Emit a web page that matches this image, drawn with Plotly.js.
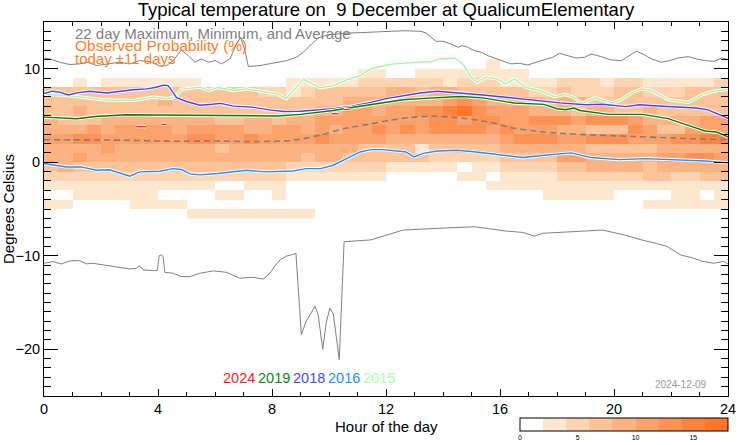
<!DOCTYPE html>
<html>
<head>
<meta charset="utf-8">
<script src="https://cdn.plot.ly/plotly-3.0.1.min.js"></script>
<style>
  html, body { margin: 0; padding: 0; background: #ffffff; }
  #chart { width: 742px; height: 445px; }
</style>
</head>
<body>
<div id="chart"></div>
<script>
// ---------- DATA ----------
// Heatmap bins (half-hour columns, 1-degree rows)
const hourBins = [0.25,0.75,1.25,1.75,2.25,2.75,3.25,3.75,4.25,4.75,5.25,5.75,6.25,6.75,7.25,7.75,8.25,8.75,9.25,9.75,10.25,10.75,11.25,11.75,12.25,12.75,13.25,13.75,14.25,14.75,15.25,15.75,16.25,16.75,17.25,17.75,18.25,18.75,19.25,19.75,20.25,20.75,21.25,21.75,22.25,22.75,23.25,23.75];
const tempBins = [-5.5,-4.5,-3.5,-2.5,-1.5,-0.5,0.5,1.5,2.5,3.5,4.5,5.5,6.5,7.5,8.5,9.5,10.5];

// Observed probability (%) per temperature row, bottom (-6..-5) to top (10..11)
const probM6 = [0,0,0,0,0,0,0,0,0,0, 3,3,3,3,3,3,3,3,3,0, 0,0,0,0,0,0,0,0,0,0, 0,0,0,0,0,0,0,0,0,0, 0,0,0,0,0,0,0,0];
const probM5 = [3,3,0,0,0,0,3,3,3,3, 0,0,0,0,0,0,0,0,0,0, 0,0,0,0,0,0,0,0,0,0, 0,0,0,0,0,0,0,0,0,0, 0,0,3,3,3,3,3,3];
const probM4 = [0,0,3,3,3,3,3,3,0,0, 0,0,3,3,0,0,3,0,0,0, 0,0,0,0,0,0,0,0,0,0, 0,0,0,0,0,3,3,3,3,3, 0,0,0,0,3,3,0,3];
const probM3 = [3,3,3,3,3,3,3,3,3,3, 3,3,0,0,3,3,3,0,0,0, 0,0,0,0,0,0,0,0,0,0, 0,3,3,3,3,3,3,3,3,3, 3,3,3,3,3,3,3,3];
const probM2 = [5,5,5,5,5,5,5,5,5,5, 5,5,5,5,5,5,5,3,3,3, 3,3,3,3,0,0,0,0,0,3, 3,0,3,3,3,3,5,5,5,5, 5,5,7,7,5,5,7,7];
const probM1 = [7,9,7,7,7,7,7,7,7,7, 7,7,7,7,7,7,7,5,5,5, 5,5,5,5,3,3,3,3,3,0, 3,3,5,5,5,5,7,7,9,9, 9,9,7,9,9,9,9,9];
const probP0 = [9,9,11,9,9,9,9,9,9,9, 9,9,9,9,9,9,9,9,7,9, 9,7,7,7,7,7,7,5,5,5, 5,5,7,7,7,7,11,11,9,9, 9,9,9,11,11,13,13,11];
const probP1 = [9,9,9,9,11,9,9,9,9,9, 9,9,7,9,9,9,9,9,9,9, 9,9,7,7,7,7,3,7,7,7, 7,7,9,9,9,9,9,9,7,7, 7,7,7,9,9,9,9,9];
const probP2 = [11,11,13,13,11,11,11,11,11,11, 13,13,11,11,13,11,11,11,11,13, 11,11,11,11,9,9,9,9,9,9, 9,9,11,13,13,13,11,11,13,13, 13,11,11,11,13,13,15,15];
const probP3 = [9,9,9,11,9,11,11,11,11,9, 11,11,11,11,9,9,11,11,9,11, 9,11,11,13,11,13,11,13,13,13, 13,11,13,11,11,11,9,9,7,7, 7,13,11,7,7,11,11,11];
const probP4 = [9,7,7,7,9,9,9,9,9,9, 9,9,7,7,9,9,7,9,9,11, 11,11,11,11,11,11,11,13,13,11, 13,13,11,11,13,13,13,11,13,13, 13,11,9,9,9,9,11,11];
const probP5 = [7,7,9,7,7,7,7,7,7,7, 7,7,7,7,7,7,7,7,7,9, 9,11,11,9,11,11,13,13,15,17, 13,11,11,11,9,9,9,7,9,9, 7,7,9,7,7,7,7,7];
const probP6 = [7,7,7,7,7,7,7,7,9,7, 7,7,7,7,7,7,7,7,7,7, 7,9,9,9,9,9,9,9,11,13, 11,9,9,9,9,7,9,9,7,7, 7,7,7,7,7,7,7,7];
const probP7 = [7,7,7,7,7,7,7,7,7,7, 7,7,7,7,7,5,5,3,5,7, 7,7,7,7,9,9,7,9,9,7, 7,7,7,7,5,5,7,5,5,5, 7,7,5,5,5,7,7,7];
const probP8 = [0,0,3,0,3,3,3,3,3,3, 3,0,0,0,0,0,0,3,3,3, 3,3,5,5,5,5,5,5,3,5, 5,5,3,3,3,3,5,5,5,3, 5,5,3,3,3,3,3,5];
const probP9 = [0,0,0,0,0,0,0,0,0,0, 0,0,0,0,0,0,0,0,0,0, 0,0,3,3,0,0,3,3,3,3, 3,3,3,3,0,0,0,0,0,0, 0,0,0,0,0,0,0,0];
const probP10 = [0,0,0,0,0,0,0,0,0,0, 0,0,0,0,0,0,0,0,0,0, 0,0,0,0,0,0,0,0,0,0, 0,3,0,0,0,0,0,0,0,0, 0,0,0,0,0,0,0,0];

// 22-day maximum
const maxHours = [0,0.2,0.55,0.9,1.25,1.55,1.84,2.31,2.66,3.01,3.36,3.71,4.06,4.3,4.53,4.82,5.06,5.29,5.53,5.76,6.0,6.23,6.52,6.76,6.9,7.05,7.17,7.58,8.04,8.51,8.86,9.1,9.39,9.62,9.92,10.27,10.68,11.09,11.47,12.06,12.64,13.23,13.41,13.58,13.76,14.0,14.28,14.52,14.69,14.87,15.1,15.34,15.57,15.8,16.1,16.39,16.68,16.98,17.27,17.56,17.85,18.09,18.38,18.67,18.97,19.2,19.55,19.9,20.26,20.55,20.78,21.02,21.31,21.66,21.95,22.25,22.6,22.89,23.18,23.53,23.77,24.0];
const maxTemps = [11.16,11.05,10.7,10.45,10.52,10.7,10.34,10.52,10.7,10.52,10.87,10.77,10.3,10.34,10.87,12.0,11.4,10.7,11.05,10.7,10.87,10.52,11.05,12.65,13.36,11.94,10.24,10.34,10.6,10.87,11.23,11.76,12.65,13.29,13.6,13.72,13.82,13.86,13.9,14.0,14.07,14.0,13.82,13.36,12.94,12.94,12.65,12.3,12.47,12.3,11.94,11.76,11.4,11.15,10.8,10.52,10.58,10.4,10.7,10.94,11.23,11.65,11.4,11.15,11.23,11.58,11.3,10.94,10.87,11.4,11.87,11.58,11.05,10.7,10.87,11.15,11.3,11.05,10.87,10.8,11.15,11.0];

// 22-day minimum
const minHours = [0,0.32,0.61,0.9,1.25,1.49,1.7,2.07,2.54,3.0,3.24,3.33,3.4,3.48,3.83,3.98,4.04,4.12,4.18,4.24,4.53,4.82,5.12,5.47,5.94,6.4,6.87,7.34,7.69,7.93,8.1,8.28,8.5,8.84,9.03,9.2,9.51,9.62,9.78,9.9,10.03,10.15,10.36,10.47,10.53,11.47,12.6,13.8,15.1,15.6,16.2,16.8,17.2,17.5,18.5,19.6,20.4,20.96,21.5,21.86,22.33,22.8,23.09,23.5,23.85,24.0];
const minTemps = [-10.8,-10.63,-10.88,-10.56,-10.52,-10.88,-10.8,-10.98,-11.16,-11.41,-11.35,-11.1,-11.2,-11.52,-11.59,-11.55,-10.0,-9.9,-10.1,-11.77,-11.87,-12.23,-12.23,-11.87,-11.62,-11.77,-12.4,-12.3,-12.5,-11.87,-11.1,-10.45,-10.05,-9.74,-18.44,-17.0,-15.4,-16.3,-20.0,-17.2,-15.6,-16.2,-21.1,-12.0,-8.5,-8.3,-7.25,-7.07,-6.9,-7.1,-7.36,-7.5,-7.9,-7.6,-7.4,-7.25,-7.8,-8.3,-8.7,-9.0,-9.9,-10.27,-10.6,-10.8,-10.6,-10.88];

// 22-day average
const avgHours = [0,1,2,3,4.07,5,5.83,7,8.17,8.6,9.1,9.7,10.5,11.47,12.15,12.9,13.6,14.3,15.0,15.7,16.4,17.3,18.1,19.0,20.3,22.0,23.2,24];
const avgTemps = [2.41,2.4,2.38,2.35,2.27,2.24,2.27,2.22,2.24,2.3,2.52,2.9,3.58,4.1,4.5,4.8,4.93,4.83,4.6,4.25,3.7,3.3,3.1,2.95,2.8,2.6,2.48,2.42];

// individual years
const hours2024 = [3.24,3.57,null,4.12,4.3,null,10.1,10.33,null,10.52,10.71];
const temps2024 = [3.8,3.8,null,4.05,4.05,null,5.19,5.19,null,5.65,5.65];

const hours2019 = [0,0.6,1.14,1.8,2.9,4.0,5.47,6.5,7.5,8.2,9.0,9.6,10.15,10.8,11.47,12.0,12.6,13.2,13.8,14.6,15.4,15.9,16.5,17.55,18.0,18.3,18.6,18.8,19.8,21.0,21.9,22.6,23.2,23.6,24];
const temps2019 = [4.83,4.75,4.66,4.9,5.08,5.05,5.01,4.95,4.9,4.95,5.12,5.3,5.54,5.85,6.18,6.45,6.68,6.8,6.89,7.03,6.89,6.61,6.33,6.19,5.72,5.62,5.8,5.54,5.12,5.12,4.66,3.94,3.34,3.23,2.72];

const hours2018 = [0,0.3,0.55,0.85,1.2,1.6,2.2,2.7,3.13,3.6,3.9,4.2,4.35,4.5,4.65,5.0,5.47,5.9,6.2,6.64,7.3,7.9,8.4,9.0,9.6,10.15,10.8,11.47,12.0,12.6,13.2,13.8,14.5,15.4,16.2,17.2,18.1,19.0,19.6,20.4,20.9,21.4,22.0,22.9,23.3,23.7,24];
const temps2018 = [7.35,7.6,7.5,7.2,7.45,7.6,7.4,7.6,7.75,7.85,8.0,8.25,8.2,7.6,6.9,6.5,6.1,6.2,6.3,6.0,5.9,5.6,5.43,5.45,5.55,5.72,6.0,6.4,6.8,7.1,7.4,7.6,7.45,7.2,6.95,6.6,6.35,6.15,6.2,5.95,6.15,6.05,5.96,5.8,5.6,5.1,4.7];

const hours2016 = [0,0.4,0.78,1.3,1.84,2.3,2.6,3.01,3.36,4.07,4.53,4.82,5.12,5.47,6.1,6.64,7.1,7.8,8.74,9.2,9.7,10.15,10.6,11.09,11.47,11.9,12.4,12.7,12.98,13.3,13.8,14.5,15.0,15.6,16.2,16.8,17.55,18.5,19.2,20.2,21.1,22.0,23.2,24];
const temps2016 = [-0.14,-0.3,-0.5,-0.5,-0.85,-0.8,-1.1,-1.49,-1.03,-0.96,-0.68,-0.78,-1.24,-1.35,-1.2,-1.0,-0.85,-1.03,-0.93,-0.68,-0.68,-0.32,0.39,1.1,1.35,1.35,1.2,1.1,0.57,0.95,1.2,1.28,1.15,0.92,0.7,0.5,0.75,1.0,0.5,0.28,0.39,0.28,0.14,-0.07];

const hours2015 = [0,0.78,1.3,2.0,2.54,3.2,3.83,4.3,4.6,4.82,5.1,5.47,5.8,6.1,6.64,7.1,7.8,8.2,8.5,8.75,9.1,9.4,9.68,10.15,10.62,11.09,11.47,11.8,12.2,12.9,13.6,13.9,14.4,14.69,14.99,15.2,15.5,15.9,16.2,16.5,16.9,17.4,17.93,18.28,18.6,18.87,19.34,19.92,20.2,20.6,20.97,21.3,21.9,22.6,23.08,23.5,24];
const temps2015 = [7.25,7.14,6.96,6.7,6.61,6.65,6.96,6.8,6.96,7.8,7.9,8.03,7.67,8.0,7.67,7.85,7.5,7.3,6.8,7.67,8.9,8.4,7.97,8.2,8.8,9.27,10.0,10.24,10.5,10.66,10.77,11.05,11.15,10.52,9.1,8.56,9.1,8.9,8.38,8.9,8.02,7.67,7.0,7.25,6.9,6.3,6.9,6.35,6.6,7.4,7.85,7.7,6.7,6.4,7.2,7.6,7.8];

const yearLabels = ['2024','2019','2018','2016','2015'];
const yearColors = ['#ff1a1a','#088a08','#4747ff','#1e8fff','#aaffaa'];
const yTickVals = [-20,-10,0,10];
const cbTickVals = [0,5,10,15];
const xTitle = 'Hour of the day';

// ---------- BUILD ----------
const probZ = [probM6,probM5,probM4,probM3,probM2,probM1,probP0,probP1,probP2,probP3,probP4,probP5,probP6,probP7,probP8,probP9,probP10];

const levelColors = ['#ffffff','#fee7cf','#fdd5b2','#fdc49a','#fcb383','#fca26c','#fc9256','#fd8340','#fe752b'];
const colorscale = [];
levelColors.forEach((c, i) => {
  colorscale.push([i * 2 / 18, c]);
  colorscale.push([Math.min(1, (i + 1) * 2 / 18), c]);
});

const FONT = 'Liberation Sans, Arial, Helvetica, sans-serif';
// plot area in pixels
const PL = 44, PR = 728, PT = 22, PB = 396;

const traces = [];
traces.push({
  type: 'heatmap', x: hourBins, y: tempBins, z: probZ,
  zmin: 0, zmax: 18, colorscale: colorscale, zsmooth: false,
  hoverinfo: 'skip',
  colorbar: {
    orientation: 'h', xref: 'paper', yref: 'container',
    x: (520 - PL) / (PR - PL), xanchor: 'left',
    y: (445 - 418) / 445, yanchor: 'top',
    lenmode: 'pixels', len: 208, thicknessmode: 'pixels', thickness: 13,
    xpad: 0, ypad: 0, outlinewidth: 1, outlinecolor: '#000000',
    tickmode: 'array', tickvals: cbTickVals, ticktext: cbTickVals.map(String),
    ticks: '', tickfont: { family: FONT, size: 7, color: '#000' }
  }
});

traces.push({ type: 'scatter', mode: 'lines', x: maxHours, y: maxTemps, line: { color: '#808080', width: 1 }, hoverinfo: 'skip' });
traces.push({ type: 'scatter', mode: 'lines', x: minHours, y: minTemps, line: { color: '#808080', width: 1 }, hoverinfo: 'skip' });
traces.push({ type: 'scatter', mode: 'lines', x: avgHours, y: avgTemps, line: { color: '#808080', width: 1.6, dash: '6px,4px', shape: 'spline', smoothing: 0.6 }, hoverinfo: 'skip' });

const years = [
  { x: hours2015, y: temps2015, c: '#a6f5a6' },
  { x: hours2016, y: temps2016, c: '#1e8fff' },
  { x: hours2018, y: temps2018, c: '#4040ff' },
  { x: hours2019, y: temps2019, c: '#008000' },
  { x: hours2024, y: temps2024, c: '#ff2020' }
];
years.forEach(s => {
  traces.push({ type: 'scatter', mode: 'lines', x: s.x, y: s.y, connectgaps: false, line: { color: '#ffffff', width: 3.2 }, hoverinfo: 'skip' });
  traces.push({ type: 'scatter', mode: 'lines', x: s.x, y: s.y, connectgaps: false, line: { color: s.c, width: 1.4 }, hoverinfo: 'skip' });
});

const noteX = (73 - PL) / (PR - PL);
const annotations = [
  { text: '22 day Maximum, Minimum, and Average', x: noteX, y: 13.75, xref: 'paper', yref: 'y', xanchor: 'left', yanchor: 'middle', showarrow: false, font: { family: FONT, size: 15, color: '#808080' } },
  { text: 'Observed Probability (%)', x: noteX, y: 12.45, xref: 'paper', yref: 'y', xanchor: 'left', yanchor: 'middle', showarrow: false, font: { family: FONT, size: 15.5, color: '#ff7f2a' } },
  { text: 'today \u00b111 days', x: noteX, y: 11.1, xref: 'paper', yref: 'y', xanchor: 'left', yanchor: 'middle', showarrow: false, font: { family: FONT, size: 15, color: '#ff7f2a' } },
  { text: '2024-12-09', x: 23.34, y: -23.8, xref: 'x', yref: 'y', xanchor: 'right', yanchor: 'middle', showarrow: false, font: { family: FONT, size: 10, color: '#999999' } },
  // x-axis title, placed below the tick labels as in the reference
  { text: xTitle, x: 0.5, y: (PB - 426) / (PB - PT), xref: 'paper', yref: 'paper', xanchor: 'center', yanchor: 'middle', showarrow: false, font: { family: FONT, size: 15, color: '#000' } }
];
const yearX = [6.2, 7.45, 8.68, 9.91, 11.14];
yearLabels.forEach((t, i) => {
  annotations.push({ text: t, x: yearX[i], y: -23.1, xref: 'x', yref: 'y', xanchor: 'left', yanchor: 'middle', showarrow: false, font: { family: FONT, size: 14.5, color: yearColors[i] } });
});

const layout = {
  width: 742, height: 445,
  margin: { l: PL, r: 742 - PR, t: PT, b: 445 - PB, pad: 0 },
  paper_bgcolor: '#ffffff', plot_bgcolor: '#ffffff',
  showlegend: false,
  font: { family: FONT, color: '#000000' },
  title: {
    text: 'Typical temperature on \u00a09 December at QualicumElementary',
    font: { family: FONT, size: 18.5, color: '#000000' },
    x: 0.5, xref: 'paper', xanchor: 'center',
    y: 1 - 10 / 445, yref: 'container', yanchor: 'middle'
  },
  xaxis: {
    range: [0, 24], tickmode: 'linear', tick0: 0, dtick: 4,
    ticks: 'inside', ticklen: 7, tickwidth: 1, tickcolor: '#000',
    minor: { tickmode: 'linear', tick0: 0, dtick: 1, ticks: 'inside', ticklen: 4, tickcolor: '#000', showgrid: false },
    showline: true, linecolor: '#000', linewidth: 1, mirror: 'ticks',
    showgrid: false, zeroline: false, automargin: false,
    tickfont: { family: FONT, size: 14.5, color: '#000' },
    title: { text: '' }
  },
  yaxis: {
    range: [-25, 15], tickmode: 'array', tickvals: yTickVals,
    ticks: 'inside', ticklen: 14, tickwidth: 1, tickcolor: '#000',
    minor: { tickmode: 'linear', tick0: 0, dtick: 1, ticks: 'inside', ticklen: 7, tickcolor: '#000', showgrid: false },
    showline: true, linecolor: '#000', linewidth: 1, mirror: 'ticks',
    showgrid: false, zeroline: false, automargin: false,
    tickfont: { family: FONT, size: 14.5, color: '#000' },
    title: { text: 'Degrees Celsius', font: { family: FONT, size: 15, color: '#000' }, standoff: 7 }
  },
  annotations: annotations
};

Plotly.newPlot('chart', traces, layout, { staticPlot: true, displayModeBar: false });
</script>
</body>
</html>
